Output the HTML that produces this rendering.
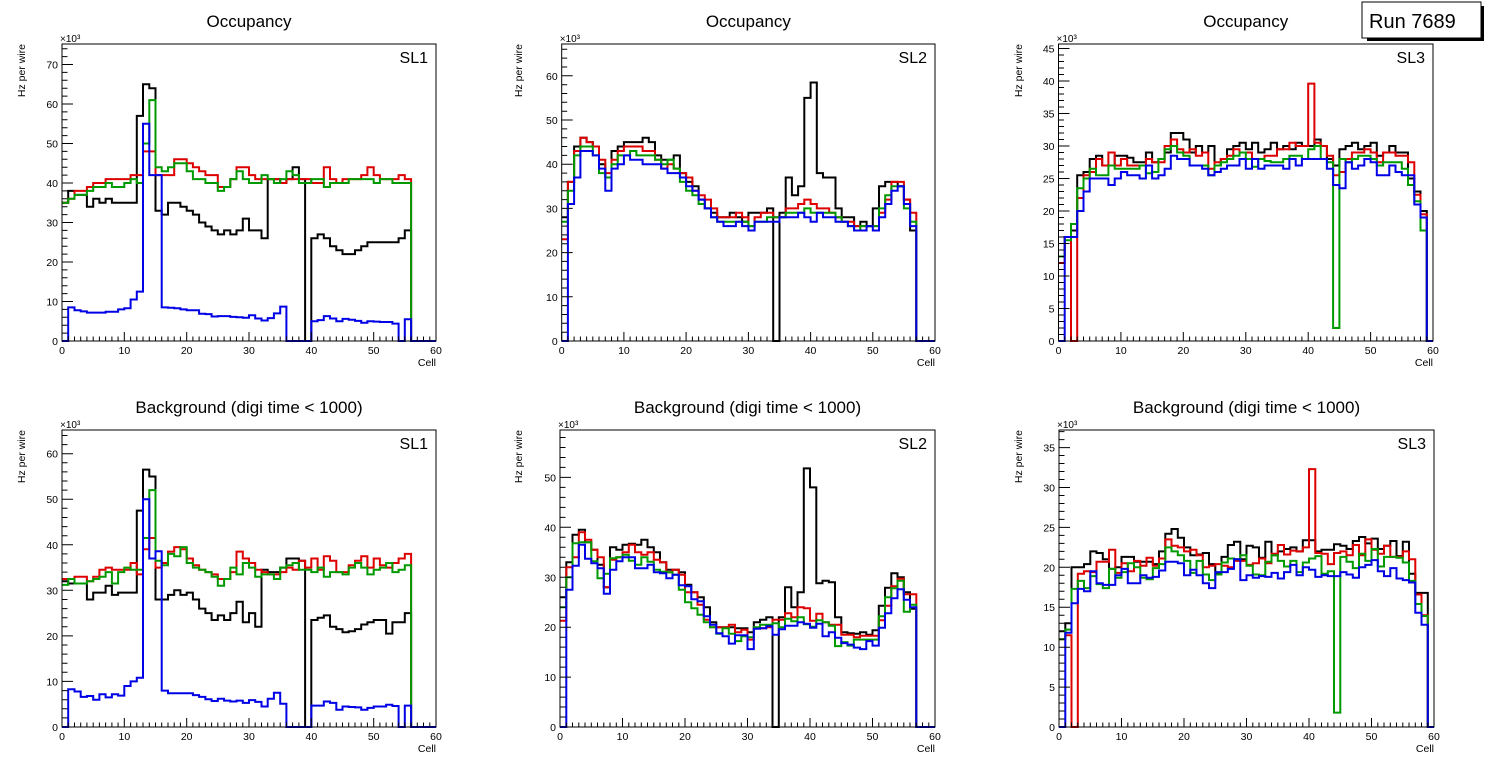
<!DOCTYPE html>
<html><head><meta charset="utf-8"><style>
html,body{margin:0;padding:0;background:#fff;}
svg{display:block;font-family:"Liberation Sans",Arial,sans-serif;}
</style></head><body>
<svg id="canvas" width="1496" height="772" viewBox="0 0 1496 772" xmlns="http://www.w3.org/2000/svg">
<rect width="1496" height="772" fill="#fff"/>
<g>
<rect x="1367" y="6" width="117" height="35" fill="#000"/>
<rect x="1362" y="2" width="119" height="36" fill="#fff" stroke="#000" stroke-width="1"/>
<text x="1369" y="28" font-size="20" fill="#000">Run 7689</text>
</g>
</svg>
<script>
const cells = Array.from({length:60},(_, i)=>i);
const xTickLabels = [0,10,20,30,40,50,60];
const yTicksP1 = [0,10,20,30,40,50,60,70];
const yTicksP2 = [0,10,20,30,40,50,60];
const yTicksP3 = [0,5,10,15,20,25,30,35,40,45];
const yTicksP4 = [0,10,20,30,40,50,60];
const yTicksP5 = [0,10,20,30,40,50];
const yTicksP6 = [0,5,10,15,20,25,30,35];
const panelTitles = ["Occupancy","Occupancy","Occupancy","Background (digi time < 1000)","Background (digi time < 1000)","Background (digi time < 1000)"];
const panelLabels = ["SL1","SL2","SL3","SL1","SL2","SL3"];

// Panel 1: Occupancy SL1
const p1Black=[35,38,37,37,34,36,35,36,35,35,35,35,57,65,64,33,32,35,35,34,33,32,30,29,28,27,28,27,28,31,28,28,26,41,41,40,41,44,41,0,26,27,26,24,23,22,22,23,24,25,25,25,25,25,26,28,0,0,0,0];
const p1Red=[35,36,38,38,39,40,40,41,41,41,41,42,42,48,48,42,42,42,46,46,45,44,43,42,42,39,39,41,44,44,42,41,41,41,41,40,41,41,41,41,40,40,44,41,40,41,41,41,42,44,42,41,41,41,42,41,0,0,0,0];
const p1Green=[35,36,37,37,38,39,39,40,39,39,40,41,40,50,61,44,43,44,45,45,43,41,41,40,40,38,39,41,43,41,40,40,42,41,40,41,43,42,40,40,41,41,39,40,40,40,41,41,41,41,40,41,41,40,40,40,0,0,0,0];
const p1Blue=[0,8.5,7.8,7.5,7.2,7.2,7.2,7.4,7.4,8,8.3,10.5,12.5,55,42,42,8.5,8.4,8.3,8,7.8,7.8,6.9,6.8,6.2,6.3,6.3,6.1,6,5.9,6.5,5.7,5.2,5.8,7,8.7,0,0,0,0,5,5.3,6.3,5.7,5,5.6,5.4,5.1,4.6,5,4.9,4.8,4.8,4.4,0,5.5,0,0,0,0];
// Panel 2: Occupancy SL2
const p2Black=[28,36,44,46,45,44,40,37,43,44,45,45,45,46,45,42,41,41,42,38,36,35,32,30,29,28,28,29,28,27,29,29,29,30,0,29,37,33,35,55,58.5,38,37,37,30,28,28,26,27,26,30,35,36,36,35,32,25,0,0,0];
const p2Red=[23,36,43,46,45,44,41,38,41,43,44,44,44,43,43,41,39,40,39,38,37,34,33,32,30,28,28,28,29,28,26,28,29,29,28,28,30,30,31,32,31,30,30,29,28,27,27,26,26,26,26,29,32,36,36,32,29,0,0,0];
const p2Green=[27,34,42,44,44,42,38,37,40,42,42,43,42,42,42,41,40,41,39,36,34,33,31,30,28,27,27,27,27,27,26,27,27,28,28,28,29,29,29,30,29,29,29,29,28,27,26,25,26,26,26,30,33,35,35,30,27,0,0,0];
const p2Blue=[0,31,37,43,43,42,39,34,39,40,42,41,41,40,40,40,39,38,38,37,35,34,32,30,28,27,26,26,27,26,25,27,27,27,27,28,28,28,29,28,27,29,28,28,27,27,26,25,25,26,25,28,31,34,35,31,26,0,0,0];
// Panel 3: Occupancy SL3
const p3Black=[13,16,17,25.5,26,28,28.5,27,27,28.5,28.5,28.2,27.5,27.5,29,27.5,28,29,32,32,31,29,30,29,30,27,28,29.5,30,30.5,29.5,30.5,29,29.5,30.5,29.5,30,29.5,30.5,30,30,31,30,28,27,29.5,30,30.5,29.5,30,30.5,28.5,29,30,29,29,25,23,20,0];
const p3Red=[12,16,0,22,25.5,26,28,27,29,27,28,27,27,27,28,27.5,27.5,30,31,29.5,29,29.5,28.5,29,26.5,27.5,28,28.5,29.5,29,29,28,28,28.5,28.5,29.5,29.5,30.5,30,30,39.6,30.5,30,28.5,25.5,26,28,29,29,29.5,29,27.5,29,29,28.5,28.5,27.5,22.5,19.5,0];
const p3Green=[13,15.5,18,23.5,25,26.5,25.5,25.5,27,26.5,26.5,26.5,26.5,27,25.8,26,28,29.5,30,29,28.5,27,27,27,25.5,27,27.5,28,28.5,29,28,26.8,28,27.7,27.5,27.5,28,28.5,28.5,28,29.5,30,28,27.5,2,28,27.5,28,28.5,28.5,28,27,27.5,27.5,27.5,26.5,24,21.5,17,0];
const p3Blue=[0,16,16,20,23,25,25,25,24,25,26,25.5,25.5,25,27,25,25.5,26.5,28.5,28,28,27,27,26.5,25.5,26,26.5,27,27,28,26.5,28,26.5,27,27,27,26.5,28,27,28,28,28,28,26.5,24,23.5,27.5,26.5,27,28,27.5,25.5,25.5,27,26,25.5,25.5,21,19,0];
// Panel 4: Background SL1
const p4Black=[32,31.5,31.5,31.5,28,29.5,29.5,31,29,29.5,29.5,29.5,47.5,56.5,55,28,28,29,30,29,29.5,28,26,25,23.5,24.5,23.5,25,27.5,23,25,22,34.5,34,34,35,37,37,36.5,0,23.5,24,24.5,22,21.5,20.8,21,21.5,22.5,23,23.5,23.5,20.5,23,23,25,0,0,0,0];
const p4Red=[32.5,32.5,33,33,32,33,34.5,35,34.5,34.5,34.5,36,33.5,39,41.5,35,36,38.5,39.5,39,37,35.5,34.5,34,33.5,32.5,32.5,34,38.5,37,36,34.5,34,33.5,33.5,34,35,34.5,36.5,35,37,34.5,37.5,36.5,34,34,35.5,36.5,37.5,35,37,35.5,35,36,37,38,0,0,0,0];
const p4Green=[31.2,32.5,31.5,31.5,32,32.5,33,34,31.5,34,35,34.5,34.5,41.5,52,36.5,35.5,38,37.5,39.5,36,35,34.5,34,33,31,32.5,35,33.5,36,35,33,33.5,33.5,32.5,35,35.5,36,34.5,34.5,34,35,33,34,34,33.5,35,36,35,33.5,34.5,35,36,34,34.5,35.5,0,0,0,0];
const p4Blue=[0,8.3,7.8,6.6,6.8,6,7.2,6.5,7.2,6.9,9,10,10.8,50,37,38.6,8,7.4,7.4,7.4,7.4,7,6.6,6.1,5.7,6.2,5.8,5.6,5.8,5.3,5.9,5.5,4.5,6.2,7.5,5.1,0,0,0,0,4.7,4.7,5.6,5.3,3.8,4.5,4.4,4.3,3.8,4.2,4.5,4.5,4.9,4.6,0,4.7,0,0,0,0];
// Panel 5: Background SL2
const p5Black=[26,33,38.5,39.5,37,35.5,32.5,28,36,35.5,36.5,36.7,36.5,37.5,36,35,33,31.5,31.5,31,28.5,27,26,24,21,20,20,20,19.8,19.8,19,21,21.5,22,0,22,28,24,27,51.8,48,28.8,29.3,29,22,19,18.8,18.7,19,18.5,19.4,24.3,27.9,30.8,30,27,23.7,0,0,0];
const p5Red=[21.3,32,34,39,37.5,35.5,34,28,33.5,34,35,36.5,35,34.5,35,33.5,33,31,31.5,30.5,27,27,24.5,21.5,20,20,20,20.5,19,19.5,17.5,19.8,19.8,20,21.5,21.5,22.8,22,24,23.8,21.3,22.7,21,20.5,20.5,18.5,18.5,18,18.3,18.3,18.3,21.4,24.3,28.2,29.7,26.6,26.6,0,0,0];
const p5Green=[24,30,36.8,37,37,33.2,29.8,30.7,33.8,34,34.5,33.3,32.5,34,33.1,31.5,31.1,31,30.5,27.5,25,23.8,22.5,21,20,18.7,19.8,18.7,17.2,18.2,18,20,20.5,20.5,20.8,20,21.7,21.2,22,20.6,20.1,21.4,21,20.3,16.2,17,16.3,17.5,17.5,17.5,17.5,22.2,26,27.8,29.3,23.1,24.5,0,0,0];
const p5Blue=[0,27.5,32.3,36.5,33.7,32.8,31.8,26.7,31.5,33.2,34,34,31.8,31.8,32.5,31,30.8,29.8,30.5,28.4,28.2,25.6,25.2,22.2,20.5,18.8,18.2,16.7,18.4,18.4,15.6,19.7,19.8,20.2,18.5,19.6,20.3,20.3,21,20.7,19.9,20.7,18.2,19,17.9,16.8,16.5,15.9,15.6,17.2,16.3,19.9,22.8,25.8,27.6,25.5,24,0,0,0];
// Panel 6: Background SL3
const p6Black=[12,13,20,20,20.4,22,21.8,21,19.8,20,21.3,21.3,20.7,20.7,20.7,20.4,22,24.2,24.8,23.7,22.5,21.5,21.6,21.8,20.4,19.3,21.3,22.8,23.2,21,22.7,22.5,21.2,23.2,21.5,22,22.3,22.5,22,23.4,23.4,22,22.2,22.2,22.9,22.7,22.3,23.3,23.8,23,23.6,22.3,22.7,23.3,21.4,23.2,19.2,16.8,16.8,0];
const p6Red=[11,11.5,0,19.2,19.5,19.4,20.7,20.7,22.2,19.3,20.5,19.5,20.8,20.2,21.2,20.2,21.1,23.5,22.7,22.5,22,22.2,21.5,20,20.2,20.4,20.2,20,20.8,20.8,20.3,20.5,21.1,20.5,21.7,22.8,21.6,22.1,22,22.5,32.3,21.8,21.7,20.4,21.8,22,21.5,22.8,21.5,23.5,22.2,21.7,22.7,21.3,21.3,22,21,16.6,14,0];
const p6Green=[11,12.2,17.3,18.3,17.4,18.9,17.9,17.4,19.8,18.7,19.4,20.5,20,18.7,18.5,19.9,20.4,22.5,22,21.5,20.8,19.3,20.8,19.1,18.4,19.1,20.6,21.1,21,21.5,20.2,19.1,19,20.7,21.5,20.8,20.1,20.8,19.4,20.6,21.1,21.4,19.2,19.5,1.8,21.3,20.7,19.9,21.7,20.8,22.3,20.1,21.3,21.3,21.2,20.6,18.3,15.4,13.9,0];
const p6Blue=[0,11.8,15.5,17.3,17,19.5,18,17.8,17.8,19,19.8,18,18,19,18.7,18.8,19.6,20.7,20.7,20.5,19,19.7,19,18,17.4,19.4,19.4,19.8,21,18.4,19,18.7,18.9,18.8,19.3,18.6,19.4,20.3,19,20,19.7,18.8,19,18.9,18.9,19.4,19.1,18.7,20,20.3,20.9,19.5,18.9,19.9,18.6,18.4,18.1,14.3,12.8,0];

const seriesColors=["#000000","#dd0000","#009a00","#0000e6"];
const seriesNames=["black","red","green","blue"];
const panelData=[[p1Black,p1Red,p1Green,p1Blue],[p2Black,p2Red,p2Green,p2Blue],[p3Black,p3Red,p3Green,p3Blue],[p4Black,p4Red,p4Green,p4Blue],[p5Black,p5Red,p5Green,p5Blue],[p6Black,p6Red,p6Green,p6Blue]];
const panelYTicks=[yTicksP1,yTicksP2,yTicksP3,yTicksP4,yTicksP5,yTicksP6];
const frames=[
 {l:62,r:436,t:44,b:341,ymax:75.2,minor:2,ytx:25},
 {l:561.7,r:935,t:44,b:341,ymax:67.2,minor:2,ytx:522},
 {l:1058.5,r:1433,t:44,b:341,ymax:45.7,minor:1,ytx:1022},
 {l:62,r:436,t:430,b:727,ymax:65.2,minor:2,ytx:25},
 {l:560,r:935,t:430,b:727,ymax:59.5,minor:2,ytx:522},
 {l:1059,r:1434,t:430,b:727,ymax:37.2,minor:1,ytx:1022}
];
const NS="http://www.w3.org/2000/svg";
const svg=document.getElementById('canvas');
function mk(tag,attrs,parent){const e=document.createElementNS(NS,tag);for(const k in attrs)e.setAttribute(k,attrs[k]);parent.appendChild(e);return e;}

frames.forEach((f,pi)=>{
  const g=mk('g',{},svg);
  
  
  const xs=v=>f.l+(v/60)*(f.r-f.l);
  const ys=v=>f.b-(v/f.ymax)*(f.b-f.t);
  // title
  const title=mk('text',{x:(f.l+f.r)/2,y:f.t-17,'text-anchor':'middle','font-size':17,fill:'#000'},g);
  title.textContent=panelTitles[pi];
  
  
  // series
  panelData[pi].forEach((vals,si)=>{
    let d='M'+xs(0).toFixed(1)+','+ys(vals[0]).toFixed(1);
    for(let i=0;i<cells.length;i++){
      d+=' H'+xs(cells[i]+1).toFixed(1);
      if(i+1<cells.length) d+=' V'+ys(vals[i+1]).toFixed(1);
    }
    const p=mk('path',{d:d,fill:'none',stroke:seriesColors[si],'stroke-width':2,'stroke-linejoin':'miter'},g);
    
    
  });
  // frame
  const fr=mk('rect',{x:f.l,y:f.t,width:f.r-f.l,height:f.b-f.t,fill:'none',stroke:'#000','stroke-width':1},g);
  
  
  // x ticks
  let td='';
  for(let v=0;v<=60;v++){const len=(v%10===0)?9:4.5;td+='M'+xs(v).toFixed(1)+','+f.b+' v-'+len+' ';}
  const yt=panelYTicks[pi];const step=yt[1]-yt[0];
  for(let v=0;v<=f.ymax+1e-6;v+=f.minor){const major=Math.abs(v/step-Math.round(v/step))<1e-6;td+='M'+f.l+','+ys(v).toFixed(1)+' h'+(major?11:5.5)+' ';}
  const tp=mk('path',{d:td,stroke:'#000','stroke-width':1,fill:'none'},g);
  
  
  xTickLabels.forEach(v=>{
    const t=mk('text',{x:xs(v),y:f.b+13,'text-anchor':'middle','font-size':10.5,fill:'#000'},g);
    t.textContent=v;
    
    
  });
  yt.forEach(v=>{
    const t=mk('text',{x:f.l-4,y:ys(v)+4,'text-anchor':'end','font-size':10.5,fill:'#000'},g);
    t.textContent=v;
    
    
  });
  const xt=mk('text',{x:f.r,y:f.b+25,'text-anchor':'end','font-size':10.5,fill:'#000'},g);
  xt.textContent='Cell';
  
  
  const ytt=mk('text',{x:f.ytx,y:f.t,'text-anchor':'end','font-size':10.5,fill:'#000',transform:'rotate(-90 '+f.ytx+' '+f.t+')'},g);
  ytt.textContent='Hz per wire';
  
  
  const ex=mk('text',{x:f.l-2,y:f.t-2,'font-size':10,fill:'#000'},g);
  ex.textContent='×10³';
  
  
  const sl=mk('text',{x:f.r-8,y:f.t+19,'text-anchor':'end','font-size':16,fill:'#000'},g);
  sl.textContent=panelLabels[pi];
  
  
});
</script>
</body></html>
